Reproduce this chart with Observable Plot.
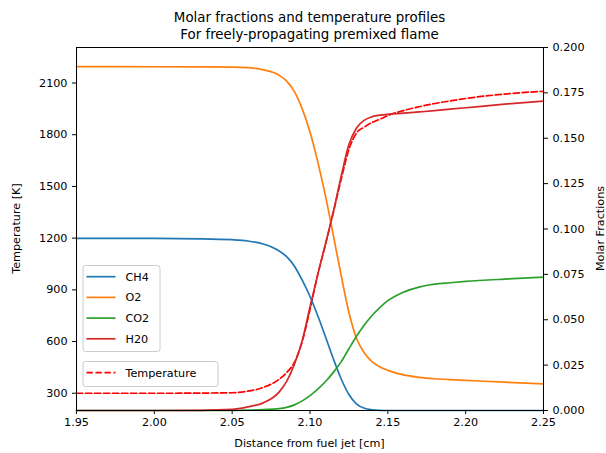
<!DOCTYPE html>
<html>
<head>
<meta charset="utf-8">
<script src="https://cdn.jsdelivr.net/npm/d3@7"></script>
<script src="https://cdn.jsdelivr.net/npm/@observablehq/plot@0.6"></script>
<style>
  body { margin: 0; background: #fff; }
  #chart { position: relative; width: 606px; height: 453px; background: #fff; font-family: "DejaVu Sans", sans-serif; }
  #chart > svg { position: absolute; left: 0; top: 0; }
</style>
</head>
<body>
<div id="chart"></div>
<script>
// Distance from the fuel jet [cm]
const distance = [1.95, 2.00, 2.03, 2.05, 2.06, 2.07, 2.08, 2.085, 2.09, 2.095, 2.10, 2.105, 2.11, 2.115,
                  2.12, 2.125, 2.13, 2.135, 2.14, 2.145, 2.15, 2.16, 2.17, 2.18, 2.19, 2.20, 2.225, 2.25];

// Molar fractions along the flame
const ch4 = [0.0948, 0.0948, 0.0946, 0.0941, 0.0934, 0.0917, 0.0880, 0.0848, 0.0795, 0.0718, 0.0628, 0.0522, 0.0405, 0.0285,
             0.0175, 0.0088, 0.0035, 0.0012, 0.0004, 0.0001, 0.0, 0.0, 0.0, 0.0, 0.0, 0.0, 0.0, 0.0];
const o2  = [0.1895, 0.1894, 0.1893, 0.1892, 0.1889, 0.1877, 0.1848, 0.1815, 0.1757, 0.1662, 0.1535, 0.1370, 0.1180, 0.0965,
             0.0745, 0.0540, 0.0395, 0.0315, 0.0268, 0.0240, 0.0221, 0.0196, 0.0183, 0.0175, 0.0170, 0.0166, 0.0156, 0.0147];
const co2 = [0.0, 0.0, 0.0, 0.0001, 0.0002, 0.0005, 0.0010, 0.0017, 0.0031, 0.0053, 0.0082, 0.0118, 0.0160, 0.0210,
             0.0268, 0.0340, 0.0410, 0.0472, 0.0525, 0.0568, 0.0605, 0.0652, 0.0680, 0.0696, 0.0704, 0.0711, 0.0724, 0.0735];
const h2o = [0.0, 0.0, 0.0001, 0.0006, 0.0020, 0.0042, 0.0100, 0.0160, 0.0255, 0.0385, 0.0570, 0.0750, 0.0920, 0.1095,
             0.1290, 0.1465, 0.1558, 0.1600, 0.1619, 0.1627, 0.1632, 0.1638, 0.1645, 0.1652, 0.1660, 0.1668, 0.1688, 0.1705];

// Gas temperature [K]
const temperature = [300, 300, 301, 303, 312, 334, 380, 420, 480, 600, 785, 990, 1165, 1350,
                     1540, 1715, 1812, 1845, 1872, 1890, 1911, 1940, 1962, 1981, 1996, 2010, 2036, 2052];

const speciesNames = ["CH4", "O2", "CO2", "H20"];
const speciesColors = ["#1f77b4", "#ff7f0e", "#2ca02c", "#d62728"];
const xTicks = [1.95, 2.00, 2.05, 2.10, 2.15, 2.20, 2.25];
const tempTicks = [300, 600, 900, 1200, 1500, 1800, 2100];
const fracTicks = [0, 0.025, 0.05, 0.075, 0.1, 0.125, 0.15, 0.175, 0.2];

const W = 606, H = 453;
const margins = {marginLeft: 76, marginRight: 63, marginTop: 47, marginBottom: 43};
const font = {fontSize: "11.2px", fontFamily: "DejaVu Sans, sans-serif", color: "black"};

const speciesSeries = [ch4, o2, co2, h2o];
const speciesRows = speciesNames.flatMap((name, k) =>
  distance.map((x, i) => ({x, y: speciesSeries[k][i], species: name})));
const tempRows = distance.map((x, i) => ({x, T: temperature[i]}));

// Temperature (left axis) underneath
const tempPlot = Plot.plot({
  width: W, height: H, ...margins,
  style: {...font, background: "white"},
  x: {domain: [1.95, 2.25]},
  y: {domain: [200, 2306]},
  marks: [
    Plot.axisX({ticks: xTicks, tickFormat: d3.format(".2f"), tickSize: 4, tickPadding: 4, label: null}),
    Plot.axisY({anchor: "left", ticks: tempTicks, tickFormat: d => String(d), tickSize: 4, tickPadding: 5, label: null}),
    Plot.line(tempRows, {x: "x", y: "T", stroke: "#ff0000", strokeWidth: 1.7,
      strokeDasharray: "6.3,2.7", curve: "monotone-x"})
  ]
});

// Molar fractions (right axis) on top
const fracPlot = Plot.plot({
  width: W, height: H, ...margins,
  style: {...font, background: "transparent"},
  x: {domain: [1.95, 2.25], axis: null},
  y: {domain: [0, 0.2]},
  color: {domain: speciesNames, range: speciesColors},
  marks: [
    Plot.line(speciesRows, {x: "x", y: "y", z: "species", stroke: "species", strokeWidth: 1.7, curve: "monotone-x"}),
    Plot.axisY({anchor: "right", ticks: fracTicks, tickFormat: d3.format(".3f"), tickSize: 4, tickPadding: 5, label: null}),
    Plot.frame({stroke: "black", strokeWidth: 1})
  ]
});

const chart = document.getElementById("chart");
chart.append(tempPlot, fracPlot);

// Titles, axis labels and legends
const svg = d3.select(chart).append("svg")
  .attr("width", W).attr("height", H)
  .style("font-family", "DejaVu Sans, sans-serif")
  .style("pointer-events", "none");

const cx = (76 + 543) / 2;
svg.append("text").attr("x", cx).attr("y", 21.8).attr("text-anchor", "middle")
  .attr("font-size", 13.4).text("Molar fractions and temperature profiles");
svg.append("text").attr("x", cx).attr("y", 38.8).attr("text-anchor", "middle")
  .attr("font-size", 13.4).text("For freely-propagating premixed flame");
svg.append("text").attr("x", cx).attr("y", 447).attr("text-anchor", "middle")
  .attr("font-size", 11.2).text("Distance from fuel jet [cm]");
svg.append("text").attr("transform", "translate(20,228.5) rotate(-90)").attr("text-anchor", "middle")
  .attr("font-size", 11.2).text("Temperature [K]");
svg.append("text").attr("transform", "translate(604,228.5) rotate(-90)").attr("text-anchor", "middle")
  .attr("font-size", 11.2).text("Molar Fractions");

function legend(x, y, w, h, entries) {
  const g = svg.append("g");
  g.append("rect").attr("x", x + 0.5).attr("y", y + 0.5).attr("width", w).attr("height", h)
    .attr("rx", 2.5).attr("fill", "rgba(255,255,255,0.8)").attr("stroke", "#cccccc").attr("stroke-width", 1);
  entries.forEach((e, i) => {
    const ly = y + 11.7 + i * 20.7;
    g.append("line").attr("x1", x + 4).attr("x2", x + 33).attr("y1", ly).attr("y2", ly)
      .attr("stroke", e.color).attr("stroke-width", 1.7)
      .attr("stroke-dasharray", e.dash || null);
    g.append("text").attr("x", x + 43).attr("y", ly).attr("dy", "0.36em")
      .attr("font-size", 11.2).attr("fill", "black").text(e.label);
  });
}
legend(82.5, 265, 77, 86, speciesNames.map((s, i) => ({label: s, color: speciesColors[i]})));
legend(82.5, 361, 135, 25, [{label: "Temperature", color: "#ff0000", dash: "6.3,2.7"}]);
</script>
</body>
</html>
